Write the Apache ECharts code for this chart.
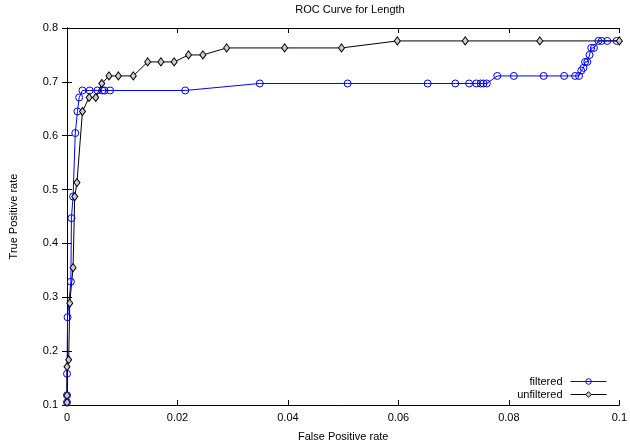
<!DOCTYPE html>
<html>
<head>
<meta charset="utf-8">
<script src="https://cdn.jsdelivr.net/npm/echarts@6/dist/echarts.min.js"></script>
<style>
    html, body { margin: 0; padding: 0; background: #fff; }
    #chart { width: 630px; height: 448px; }
</style>
</head>
<body>
<div id="chart"></div>
<script>
// false positive rate / true positive rate
var filteredFpr = [0, 0, 0, 0.0001, 0.0007, 0.0008, 0.0011, 0.0015, 0.0019, 0.0022,
    0.0028, 0.0041, 0.0055, 0.0064, 0.0068, 0.0078, 0.0214, 0.0349, 0.0508, 0.0653,
    0.0703, 0.0728, 0.0741, 0.0749, 0.0754, 0.0760, 0.0779, 0.0809, 0.0863, 0.0900,
    0.0920, 0.0927, 0.0931, 0.0935, 0.0938, 0.0942, 0.0946, 0.0949, 0.0954, 0.0962,
    0.0968, 0.0978, 0.0995];
var filteredTpr = [0.105, 0.118, 0.158, 0.263, 0.329, 0.447, 0.487, 0.605, 0.645, 0.671,
    0.684, 0.684, 0.684, 0.684, 0.684, 0.684, 0.684, 0.697, 0.697, 0.697,
    0.697, 0.697, 0.697, 0.697, 0.697, 0.697, 0.711, 0.711, 0.711, 0.711,
    0.711, 0.711, 0.721, 0.726, 0.737, 0.737, 0.750, 0.763, 0.763, 0.776,
    0.776, 0.776, 0.776];

var unfilteredFpr = [0, 0, 0, 0.0003, 0.0005, 0.0011, 0.0014, 0.0018, 0.0028, 0.0040,
    0.0052, 0.0063, 0.0076, 0.0093, 0.0120, 0.0146, 0.0170, 0.0194, 0.0220, 0.0246,
    0.0289, 0.0394, 0.0497, 0.0598, 0.0721, 0.0856, 0.1];
var unfilteredTpr = [0.105, 0.118, 0.171, 0.184, 0.289, 0.355, 0.487, 0.513, 0.645, 0.671,
    0.671, 0.697, 0.711, 0.711, 0.711, 0.737, 0.737, 0.737, 0.750, 0.750,
    0.763, 0.763, 0.763, 0.776, 0.776, 0.776, 0.776];

var xTicks = [0, 0.02, 0.04, 0.06, 0.08, 0.1];

function pairs(xs, ys){
    var out = [];
    for(var i = 0; i < xs.length; i++){
        out.push([xs[i], ys[i]]);
    }
    return out;
}

var font = "Liberation Sans";
var myChart = echarts.init(document.getElementById("chart"), null, {renderer: "canvas"});

var tickStyle = {show: true, inside: true, length: 5, lineStyle: {color: "#000", width: 1}};

myChart.setOption({
    animation: false,
    backgroundColor: "#fff",
    textStyle: {fontFamily: font},
    title: {
        text: "ROC Curve for Length",
        left: 345,
        textAlign: "center",
        top: -1,
        textStyle: {fontFamily: font, fontSize: 11, fontWeight: "normal", color: "#000"}
    },
    grid: {left: 67, right: 7, top: 28, bottom: 43},
    legend: {
        orient: "vertical",
        right: 23,
        top: 375,
        align: "right",
        padding: 0,
        itemWidth: 36,
        itemHeight: 7,
        itemGap: 0,
        lineStyle: {width: 1},
        itemStyle: {borderWidth: 1},
        textStyle: {fontFamily: font, fontSize: 11, color: "#000", lineHeight: 13, padding: [0, 3, 0, 0]},
        data: ["filtered", "unfiltered"]
    },
    xAxis: [{
        type: "value",
        min: 0,
        max: 0.1,
        interval: 0.02,
        name: "False Positive rate",
        nameLocation: "middle",
        nameGap: 26,
        nameTextStyle: {fontFamily: font, fontSize: 11, color: "#000"},
        axisLine: {show: true, lineStyle: {color: "#000", width: 1}},
        axisTick: tickStyle,
        axisLabel: {
            fontFamily: font, fontSize: 11, color: "#000", margin: 7,
            formatter: function(v){ return xTicks.indexOf(Math.round(v * 100) / 100) >= 0 ? String(Math.round(v * 100) / 100) : ""; }
        },
        splitLine: {show: false}
    }, {
        type: "value",
        position: "top",
        min: 0,
        max: 0.1,
        interval: 0.02,
        axisLine: {show: true, lineStyle: {color: "#000", width: 1}},
        axisTick: tickStyle,
        axisLabel: {show: false},
        splitLine: {show: false}
    }],
    yAxis: [{
        type: "value",
        min: 0.1,
        max: 0.8,
        interval: 0.1,
        name: "True Positive rate",
        nameLocation: "middle",
        nameGap: 48,
        nameTextStyle: {fontFamily: font, fontSize: 11, color: "#000"},
        axisLine: {show: true, lineStyle: {color: "#000", width: 1}},
        axisTick: tickStyle,
        axisLabel: {
            fontFamily: font, fontSize: 11, color: "#000", margin: 9,
            formatter: function(v){ return (Math.round(v * 10) / 10).toFixed(1); }
        },
        splitLine: {show: false}
    }, {
        type: "value",
        position: "right",
        min: 0.1,
        max: 0.8,
        interval: 0.1,
        axisLine: {show: true, lineStyle: {color: "#000", width: 1}},
        axisTick: tickStyle,
        axisLabel: {show: false},
        splitLine: {show: false}
    }],
    series: [{
        name: "filtered",
        type: "line",
        data: pairs(filteredFpr, filteredTpr),
        symbol: "circle",
        symbolSize: 7,
        showAllSymbol: true,
        lineStyle: {color: "#0000ff", width: 1},
        itemStyle: {color: "rgba(0,0,0,0)", borderColor: "#0000ff", borderWidth: 1},
        emphasis: {disabled: true}
    }, {
        name: "unfiltered",
        type: "line",
        data: pairs(unfilteredFpr, unfilteredTpr),
        symbol: "diamond",
        symbolSize: [6, 8],
        showAllSymbol: true,
        lineStyle: {color: "#000", width: 1},
        itemStyle: {color: "#cccccc", borderColor: "#000", borderWidth: 1},
        emphasis: {disabled: true}
    }]
});
</script>
</body>
</html>
